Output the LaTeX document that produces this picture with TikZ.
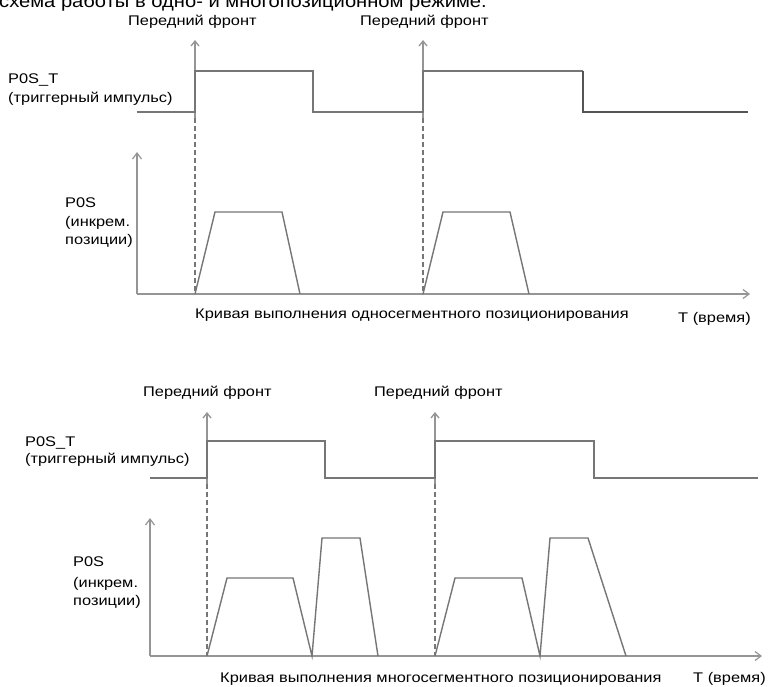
\documentclass[tikz,border=0pt]{standalone}
\usepackage{fontspec}
\setmainfont{Liberation Sans}
\newfontfamily\lblfont[FakeStretch=1.17]{Liberation Sans}
\newfontfamily\headfont[FakeStretch=1.12]{Liberation Sans}
\usetikzlibrary{arrows.meta}
\definecolor{lgray}{HTML}{959595}
\definecolor{mgray}{HTML}{767676}
\definecolor{dgray}{HTML}{555555}
\tikzset{
  lbl/.style={anchor=base west,inner sep=0pt,font=\lblfont\fontsize{14}{16}\selectfont},
  sig/.style={draw=mgray,line width=1.3pt},
  axisline/.style={draw=lgray,line width=1.2pt,-{Straight Barb[length=6pt,width=9pt]}},
  trig/.style={draw=lgray,line width=1.3pt,-{Straight Barb[length=5pt,width=8pt]}},
  dashline/.style={draw=mgray,line width=1.5pt,dash pattern=on 5pt off 3pt},
  curve/.style={draw=mgray,line width=1.4pt,line join=miter}
}
\begin{document}
\begin{tikzpicture}[x=1pt,y=-1pt]
\useasboundingbox (0,0) rectangle (769,686);
\fill[white] (0,0) rectangle (769,686);
% partial heading at top (cut by the top edge, as in the reference)
\node[anchor=base west,inner sep=0pt,font=\headfont\fontsize{18}{20}\selectfont] (head) at (-1,7) {схема работы в одно- и многопозиционном режиме.};

% ===== Top diagram =====
\node[lbl] (f1) at (128,25) {Передний фронт};
\node[lbl] (f2) at (360,25) {Передний фронт};
\node[lbl] (pt1) at (8,83) {P0S\_T};
\node[lbl] (pt1b) at (8,102) {(триггерный импульс)};
\node[lbl] (ps1) at (65,207) {P0S};
\node[lbl] (ps1b) at (65,226) {(инкрем.};
\node[lbl] (ps1c) at (65,244) {позиции)};
\node[lbl] (cap1) at (195,318) {Кривая выполнения односегментного позиционирования};
\node[lbl] (t1) at (678,322) {T (время)};

\coordinate (a1b) at (195,118); \coordinate (a1t) at (195,40);
\coordinate (a2b) at (423,118); \coordinate (a2t) at (423,40);
\draw[trig] (a1b) -- (a1t);
\draw[trig] (a2b) -- (a2t);
\draw[sig] (137,112) -- (195,112) -- (195,71) -- (313,71) -- (313,112) -- (423,112) -- (423,71) -- (583,71);
\draw[draw=dgray,line width=1.3pt] (583,71) -- (583,112) -- (748,112);

\coordinate (o1) at (137,294);
\coordinate (y1) at (137,152);
\coordinate (x1) at (750,294);
\draw[axisline] (o1) -- (y1);
\draw[axisline] (o1) -- (x1);
\draw[dashline] (195,118) -- (195,294);
\draw[dashline] (423,118) -- (423,294);
\draw[curve] (195,294) -- (215,212) -- (282,212) -- (300,294);
\draw[curve] (423,294) -- (443,212) -- (510,212) -- (529,294);

% ===== Bottom diagram =====
\node[lbl] (f3) at (143,396) {Передний фронт};
\node[lbl] (f4) at (374,396) {Передний фронт};
\node[lbl] (pt2) at (25,446) {P0S\_T};
\node[lbl] (pt2b) at (25,463) {(триггерный импульс)};
\node[lbl] (ps2) at (73,566) {P0S};
\node[lbl] (ps2b) at (73,587) {(инкрем.};
\node[lbl] (ps2c) at (73,605) {позиции)};
\node[lbl] (cap2) at (220,682) {Кривая выполнения многосегментного позиционирования};
\node[lbl] (t2) at (693,682) {T (время)};

\coordinate (a3b) at (207,484); \coordinate (a3t) at (207,412);
\coordinate (a4b) at (435,484); \coordinate (a4t) at (435,412);
\draw[trig] (a3b) -- (a3t);
\draw[trig] (a4b) -- (a4t);
\draw[sig] (150,478) -- (207,478) -- (207,441) -- (325,441) -- (325,478) -- (435,478) -- (435,441) -- (594,441) -- (594,478) -- (758,478);

\coordinate (o2) at (150,656);
\coordinate (y2) at (150,518);
\coordinate (x2) at (762,656);
\draw[axisline] (o2) -- (y2);
\draw[axisline] (o2) -- (x2);
\draw[dashline] (207,484) -- (207,656);
\draw[dashline] (435,484) -- (435,656);
\draw[curve] (207,656) -- (227,578) -- (293,578) -- (312,656) -- (322,538) -- (360,538) -- (378,656);
\draw[curve] (435,656) -- (455,578) -- (522,578) -- (540,656) -- (550,538) -- (588,538) -- (626,656);
\end{tikzpicture}
\end{document}
